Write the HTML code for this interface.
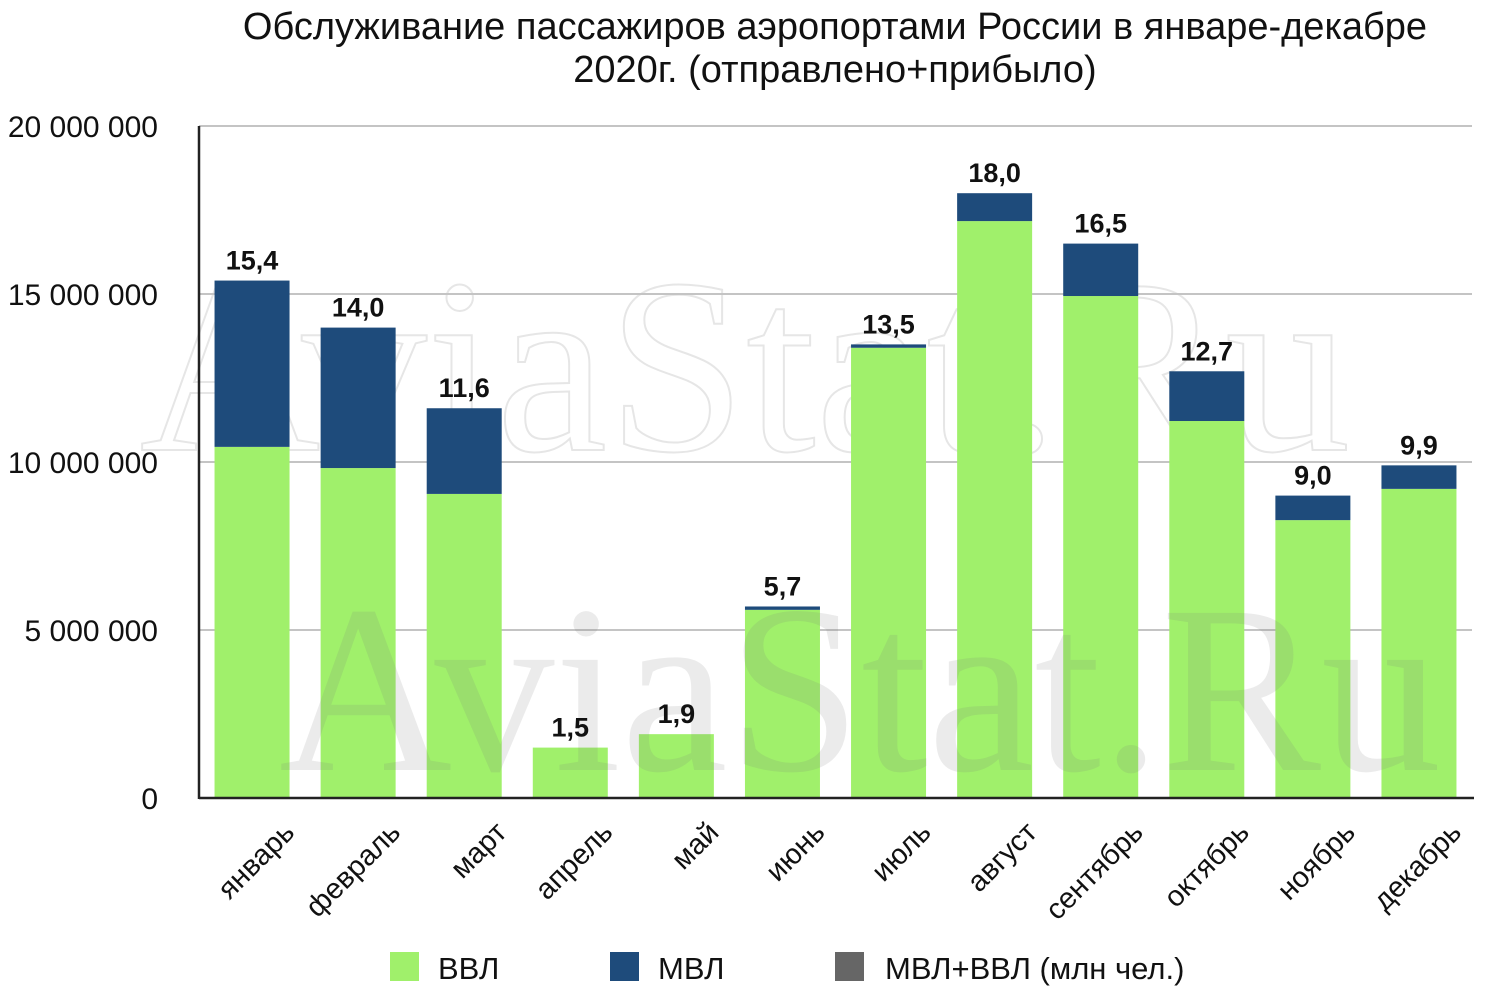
<!DOCTYPE html>
<html><head><meta charset="utf-8"><style>
body{margin:0;background:#fff;width:1500px;height:1000px;overflow:hidden}
svg{display:block}
text{font-family:"Liberation Sans","DejaVu Sans",sans-serif}
</style></head><body>
<svg id="chart" width="1500" height="1000">
<text x="835" y="39" text-anchor="middle" font-size="38" fill="#111">Обслуживание пассажиров аэропортами России в январе-декабре</text>
<text x="835" y="82" text-anchor="middle" font-size="38" fill="#111">2020г. (отправлено+прибыло)</text>
<text x="745" y="450" text-anchor="middle" font-size="250" style="font-family:'Liberation Serif',serif" fill="none" stroke="#e6e6e6" stroke-width="2">AviaStat.Ru</text>
<g id="grid"></g>
<g id="bars"></g>
<text x="860" y="770" text-anchor="middle" font-size="240" style="font-family:'Liberation Serif',serif" fill="rgba(120,120,120,0.15)">AviaStat.Ru</text>
<g id="labels"></g>
<line x1="199" y1="126" x2="199" y2="799" stroke="#222" stroke-width="2.5"/>
<line x1="199" y1="798" x2="1474" y2="798" stroke="#222" stroke-width="2.5"/>
<g>
<rect x="390" y="952" width="29" height="29" fill="#a0f06b"/>
<text x="438" y="979" font-size="31" fill="#111">ВВЛ</text>
<rect x="610" y="952" width="29" height="29" fill="#1e4b7b"/>
<text x="658" y="979" font-size="31" fill="#111">МВЛ</text>
<rect x="835" y="952" width="29" height="29" fill="#666"/>
<text x="885" y="979" font-size="31" fill="#111">МВЛ+ВВЛ (млн чел.)</text>
</g>
</svg>
<script>
const months=["январь","февраль","март","апрель","май","июнь","июль","август","сентябрь","октябрь","ноябрь","декабрь"];
const vvl=[10.45,9.82,9.05,1.5,1.9,5.6,13.4,17.17,14.94,11.22,8.27,9.2];
const total=[15.4,14.0,11.6,1.5,1.9,5.7,13.5,18.0,16.5,12.7,9.0,9.9];
const yTicks=[0,5,10,15,20];
const yTickLabels=["0","5 000 000","10 000 000","15 000 000","20 000 000"];
const NS="http://www.w3.org/2000/svg";
const x0=199,x1=1472,y0=798,y1=126,ymax=20;
const bw=(x1-x0)/months.length;
const Y=v=>y0-(v/ymax)*(y0-y1);
const X=i=>x0+bw*(i+0.5);
function mk(t,a,p){const e=document.createElementNS(NS,t);for(const k in a)e.setAttribute(k,a[k]);p.appendChild(e);return e;}
const grid=document.getElementById('grid'),bars=document.getElementById('bars'),labels=document.getElementById('labels');
yTicks.forEach((v,i)=>{
 if(v>0){const l=mk('line',{x1:x0,x2:x1,y1:Y(v),y2:Y(v),stroke:'#c4c4c4','stroke-width':2},grid);
 
 }
 const t=mk('text',{x:158,y:Y(v)+11,'text-anchor':'end','font-size':30,fill:'#111'},grid);t.textContent=yTickLabels[i];
 
 
});
months.forEach((m,i)=>{
 const cx=X(i),w=75;
 const g=mk('rect',{x:cx-w/2,y:Y(vvl[i]),width:w,height:y0-Y(vvl[i]),fill:'#a0f06b'},bars);
 
 
 const b=mk('rect',{x:cx-w/2,y:Y(total[i]),width:w,height:Math.max(0,Y(vvl[i])-Y(total[i])),fill:'#1e4b7b'},bars);
 
 
 const vl=mk('text',{x:cx,y:Y(total[i])-11,'text-anchor':'middle','font-size':27,'font-weight':'bold',fill:'#111'},labels);
 vl.textContent=total[i].toFixed(1).replace('.',',');
 
 
 const ml=mk('text',{x:0,y:0,'text-anchor':'end','font-size':29,fill:'#111',transform:`translate(${cx+44},${834}) rotate(-45)`},labels);
 ml.textContent=m;
 
 
});
</script>
</body></html>
